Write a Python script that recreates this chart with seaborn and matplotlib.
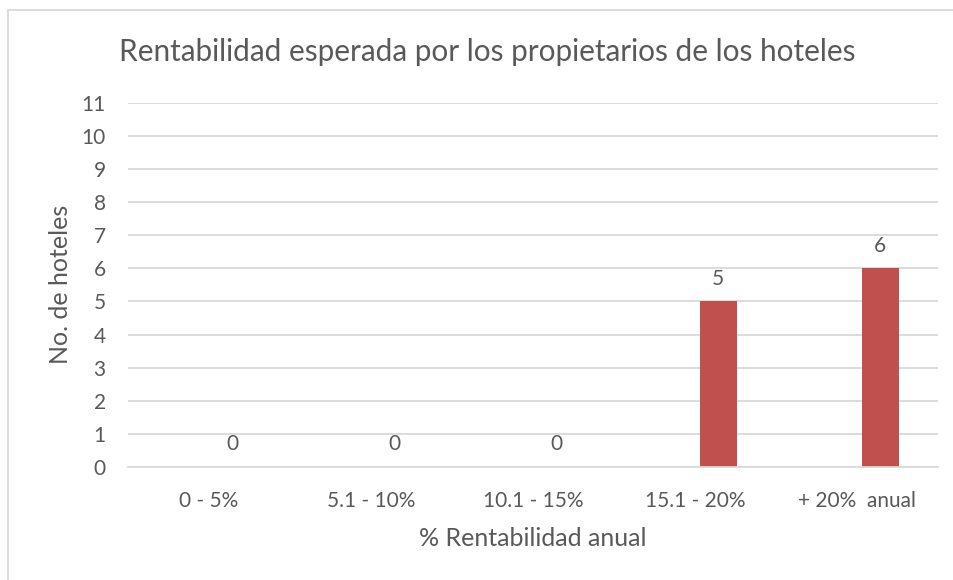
import matplotlib
matplotlib.use("Agg")
import matplotlib.pyplot as plt
import matplotlib.patches as mpatches
import seaborn as sns
import pandas as pd
import numpy as np

categories = ["0 - 5%", "5.1 - 10%", "10.1 - 15%", "15.1 - 20%", "+ 20%  anual"]
hoteles = [0, 0, 0, 5, 6]
empty_series = [np.nan] * 5
y_ticks = list(range(0, 12))

title = "Rentabilidad esperada por los propietarios de los hoteles"
xlabel = "% Rentabilidad anual"
ylabel = "No. de hoteles"

sns.set_theme(style="white")
plt.rcParams['font.family'] = ['Lato', 'DejaVu Sans']

TXT = "#595959"
GRID = "#D9D9D9"
BAR = "#C0504D"

df = pd.DataFrame({
    "cat": categories * 2,
    "val": empty_series + hoteles,
    "serie": ["a"] * 5 + ["b"] * 5,
})

W, H = 954, 580
fig = plt.figure(figsize=(W / 100, H / 100), dpi=100)
fig.patch.set_facecolor("white")
ax = fig.add_axes([128 / W, (H - 467) / H, 810 / W, (467 - 102.7) / H])

sns.barplot(data=df, x="cat", y="val", hue="serie", hue_order=["a", "b"],
            order=categories, palette={"a": BAR, "b": BAR},
            width=0.57, gap=0.2, dodge=True, legend=False, ax=ax,
            linewidth=0, saturation=1, errorbar=None)

ax.set_ylim(0, 11)
ax.set_xlim(-0.5, len(categories) - 0.5)
ax.set_yticks(y_ticks)
ax.yaxis.grid(True, color=GRID, linewidth=1.3)
ax.set_axisbelow(True)
for s in ["top", "right", "left"]:
    ax.spines[s].set_visible(False)
ax.spines["bottom"].set_color(GRID)
ax.spines["bottom"].set_linewidth(1.3)
ax.tick_params(axis="both", length=0, labelsize=15, labelcolor=TXT)
ax.tick_params(axis="x", pad=17)
ax.tick_params(axis="y", pad=16)

cont = ax.containers[-1]
ax.bar_label(cont, labels=[str(v) for v in hoteles], padding=9,
             fontsize=15, color=TXT)

ax.set_xlabel(xlabel, fontsize=18, color=TXT, labelpad=12)
ax.set_ylabel(ylabel, fontsize=18, color=TXT, labelpad=7)

fig.text(487.5 / W, 1 - 52 / H, title, ha="center", va="center",
         fontsize=21.4, color=TXT)

border = mpatches.Rectangle((8 / W, -0.1), 1.2, (H - 10) / H + 0.1,
                            transform=fig.transFigure, fill=False,
                            edgecolor=GRID, linewidth=1.3)
fig.patches.append(border)

fig.savefig("out.png", dpi=100)
